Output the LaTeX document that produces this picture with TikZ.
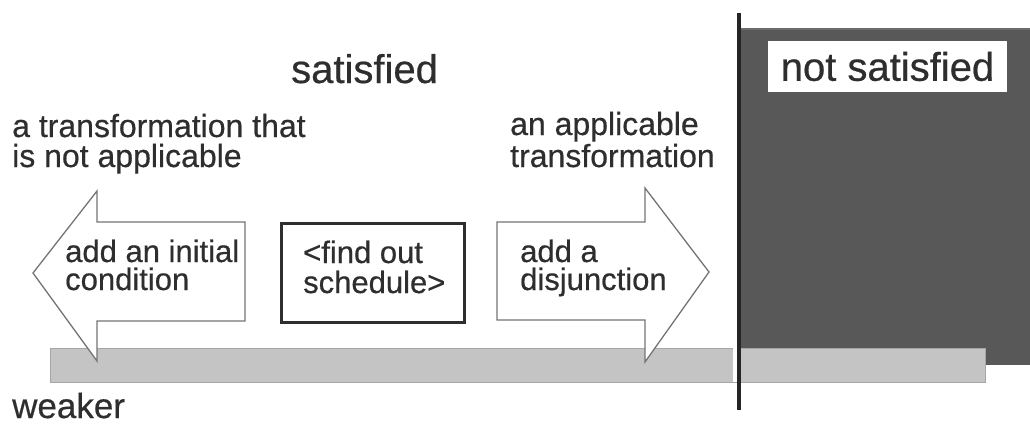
\documentclass[tikz,border=0pt]{standalone}
\usepackage{fontspec}
\setmainfont{Liberation Sans}[FakeBold=0.5]
\definecolor{ink}{HTML}{2E2E2E}
\definecolor{darkzone}{HTML}{585858}
\definecolor{barfill}{HTML}{C4C4C4}
\definecolor{baredge}{HTML}{A6A6A6}
\definecolor{arrowedge}{HTML}{747474}
\begin{document}
\begin{tikzpicture}[x=1pt,y=-1pt,
  txt/.style={anchor=base west, inner sep=0pt, text=ink},
  big/.style={font=\fontsize{40}{40}\selectfont},
  mid/.style={font=\fontsize{32}{32}\selectfont},
  small/.style={font=\fontsize{31}{31}\selectfont},
  arrowshape/.style={draw=arrowedge, line width=1.3pt, fill=white, line join=miter},
  boxline/.style={draw=ink, line width=3pt, fill=white}]
\useasboundingbox (0,0) rectangle (1030,428);

% region that is not satisfied
\fill[darkzone] (739,29) rectangle (1030,365);
\draw[ink!70, line width=1.5pt] (739,29) -- (1030,29);

% the ordering bar
\draw[baredge, fill=barfill, line width=0.8pt] (50,348) rectangle (985,382);
\fill[white] (733,348) rectangle (736.5,382);

% boundary line
\draw[ink!80!black, line width=4pt] (739,13) -- (739,410);

% weakening transformation (points left)
\draw[arrowshape] (245,222) -- (97,222) -- (97,191) -- (33,273) -- (97,361)
  -- (97,321) -- (245,321) -- cycle;
% strengthening transformation (points right)
\draw[arrowshape] (497,222) -- (645,222) -- (645,188) -- (709,272) -- (645,362)
  -- (645,320) -- (497,320) -- cycle;

% schedule box
\draw[boxline] (281,223) rectangle (464,322);

% labels
\node[txt, big] (sat) at (291,83) {satisfied};
\node[fill=white, inner sep=0pt, minimum width=239pt, minimum height=51pt,
  text=ink, big] (notsat) at (887.5,66.5) {not satisfied};

\node[txt, mid] (na1) at (12,137) {a transformation that};
\node[txt, mid] (na2) at (12,167) {is not applicable};
\node[txt, mid] (ap1) at (510,135) {an applicable};
\node[txt, mid] (ap2) at (510,167) {transformation};

\node[txt, small] (ic1) at (65,262) {add an initial};
\node[txt, small] (ic2) at (65,290) {condition};
\node[txt, small] (fs1) at (303,263) {<find out};
\node[txt, small] (fs2) at (303,293) {schedule>};
\node[txt, small] (dj1) at (520,262) {add a};
\node[txt, small] (dj2) at (520,290) {disjunction};

\node[txt, font=\fontsize{35}{35}\selectfont] (weak) at (12,418) {weaker};
\end{tikzpicture}
\end{document}
